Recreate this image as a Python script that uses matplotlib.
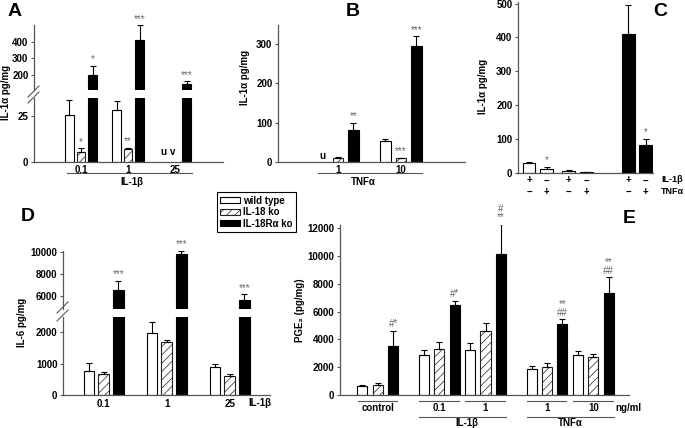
import numpy as np
import matplotlib.pyplot as plt
from matplotlib.patches import Patch
from matplotlib.lines import Line2D
from matplotlib.transforms import Affine2D, blended_transform_factory

plt.rcParams['font.family'] = ['Liberation Sans', 'DejaVu Sans']
plt.rcParams['font.weight'] = 'bold'
plt.rcParams['font.size'] = 7
plt.rcParams['hatch.linewidth'] = 0.5

# ---- data ----
# A: IL-1a, IL-1b stimulation (None = undetectable)
a_doses = ["0.1", "1", "25"]
a_wt = [25.5, 28.5, None]
a_wt_err = [8, 4.5, 0]
a_ko18 = [5.7, 7.0, None]
a_ko18_err = [1.9, 0.9, 0]
a_ko18r = [200, 408, 144]
a_ko18r_err = [55, 92, 20]
a_marks = {"ko18": ["*", "**", ""], "ko18r": ["*", "***", "***"]}
a_undet = ["u", "v"]

# B: IL-1a, TNFa stimulation
b_doses = ["1", "10"]
b_wt = [None, 53]
b_wt_err = [0, 5]
b_ko18 = [11, 9]
b_ko18_err = [3, 2]
b_ko18r = [81, 295]
b_ko18r_err = [19, 25]
b_marks = {"ko18": ["", "***"], "ko18r": ["**", "***"]}

# C: IL-1a, IL-1b vs TNFa
c_il1b = ["+", "\u2212", "+", "\u2212", "+", "\u2212"]
c_tnfa = ["\u2212", "+", "\u2212", "+", "\u2212", "+"]
c_vals = [28, 11, 6, 1.5, 409, 81]
c_err = [4, 6, 2, 0.5, 87, 19]
c_fill = ["white", "white", "white", "white", "black", "black"]
c_marks = ["", "*", "", "", "", "*"]

# D: IL-6
d_doses = ["0.1", "1", "25"]
d_wt = [774, 1965, 901]
d_wt_err = [236, 350, 76]
d_ko18 = [659, 1678, 605]
d_ko18_err = [64, 64, 54]
d_ko18r = [6525, 9843, 5604]
d_ko18r_err = [830, 277, 553]
d_marks = ["***", "***", "***"]

# E: PGE2
e_groups = ["control", "0.1", "1", "1", "10"]
e_wt = [650, 2905, 3241, 1873, 2905]
e_wt_err = [50, 336, 480, 192, 264]
e_ko18 = [720, 3289, 4586, 1993, 2761]
e_ko18_err = [120, 528, 624, 288, 192]
e_ko18r = [3529, 6483, 10156, 5090, 7323]
e_ko18r_err = [1105, 312, 2161, 384, 1152]
e_marks = ["#*", "#*", "#\n**", "**\n##", "**\n##"]

AXC = "#555555"
STAR = "#666666"

W, H = 685, 428
fig = plt.figure(figsize=(W / 100, H / 100), dpi=100)
px = Affine2D().scale(1 / W, -1 / H).translate(0, 1) + fig.transFigure


def add_ax(x0, y0, x1, y1):
    return fig.add_axes([x0 / W, 1 - y1 / H, (x1 - x0) / W, (y1 - y0) / H])


def style(ax):
    for s in ["top", "right"]:
        ax.spines[s].set_visible(False)
    for s in ["left", "bottom"]:
        ax.spines[s].set_color(AXC)
        ax.spines[s].set_linewidth(0.9)
    ax.tick_params(axis="y", length=2.5, width=0.8, color=AXC, pad=1.5, labelsize=7)
    ax.tick_params(axis="x", length=0, labelsize=7)
    ax.patch.set_visible(False)


def bars(ax, x, vals, errs, kind, width):
    xs = [xi for xi, v in zip(x, vals) if v is not None]
    vs = [v for v in vals if v is not None]
    es = [e for e, v in zip(errs, vals) if v is not None]
    if kind == "ko18":
        ax.bar(xs, vs, width, facecolor="white", edgecolor="#222222", hatch="////", linewidth=0.8)
    else:
        ax.bar(xs, vs, width, facecolor="white" if kind == "wt" else "black",
               edgecolor="black", linewidth=0.8)
    ax.errorbar(xs, vs, yerr=[np.zeros(len(vs)), es], fmt="none", ecolor="black",
                elinewidth=0.8, capsize=2, capthick=0.8)


def mark(axes, x, top, s):
    if not s:
        return
    ax = [a for a in axes if a.get_ylim()[0] <= top][-1]
    ax.annotate(s, (x, top), xytext=(0, 1), textcoords="offset points", ha="center",
                va="bottom", fontsize=7, color=STAR, fontweight="normal",
                linespacing=0.85, annotation_clip=False)


def brk(x0, y0, x1, y1):
    fig.add_artist(Line2D([x0, x1], [y0, y1], transform=px, color=AXC, lw=0.8))


def group_line(ax, x0, x1, y):
    tr = blended_transform_factory(ax.transData, px)
    fig.add_artist(Line2D([x0, x1], [y, y], transform=tr, color=AXC, lw=0.8))


def group_text(ax, x, y, s, **kw):
    tr = blended_transform_factory(ax.transData, px)
    fig.text(x, y, s, transform=tr, ha="center", va="center", **kw)


# ---------------- A ----------------
axA_lo = add_ax(34, 97.5, 223, 162.3)
axA_hi = add_ax(34, 25, 223, 90)
xa = np.arange(len(a_doses))
off, wa = 0.245, 0.19
for ax in (axA_lo, axA_hi):
    style(ax)
    bars(ax, xa - off, a_wt, a_wt_err, "wt", wa)
    bars(ax, xa, a_ko18, a_ko18_err, "ko18", wa)
    bars(ax, xa + off, a_ko18r, a_ko18r_err, "ko18r", wa)
    ax.set_xlim(-1.0, 3.02)
axA_lo.set_ylim(0, 35)
axA_hi.set_ylim(110, 500)
axA_lo.set_yticks([0, 25])
axA_hi.set_yticks([200, 300, 400])
axA_hi.spines["bottom"].set_visible(False)
axA_hi.set_xticks([])
axA_lo.set_xticks(xa, a_doses)
axA_lo.tick_params(axis="x", pad=2)
for i in range(len(a_doses)):
    if a_ko18[i] is not None:
        mark([axA_lo, axA_hi], xa[i], a_ko18[i] + a_ko18_err[i], a_marks["ko18"][i])
    mark([axA_lo, axA_hi], xa[i] + off, a_ko18r[i] + a_ko18r_err[i], a_marks["ko18r"][i])
for j, s in enumerate(a_undet):
    axA_lo.text(xa[2] - off + j * off * 0.8, 3, s, ha="center", va="bottom", fontsize=7)
brk(28, 97, 39, 86)
brk(28, 103, 39, 92)
group_line(axA_lo, -0.3, 2.36, 173)
group_text(axA_lo, 1.08, 182, "IL-1\u03b2")
fig.text(6, 92, "IL-1\u03b1 pg/mg", transform=px, rotation=90, ha="center", va="center")
fig.text(15, 11, "A", transform=px, fontsize=14, ha="center", va="center")

# ---------------- B ----------------
axB = add_ax(278, 25, 465, 162)
style(axB)
xb = np.arange(len(b_doses))
offb, wb = 0.246, 0.167
bars(axB, xb - offb, b_wt, b_wt_err, "wt", wb)
bars(axB, xb, b_ko18, b_ko18_err, "ko18", wb)
bars(axB, xb + offb, b_ko18r, b_ko18r_err, "ko18r", wb)
axB.set_xlim(-0.952, 2.016)
axB.set_ylim(0, 349)
axB.set_yticks([0, 100, 200, 300])
axB.set_xticks(xb, b_doses)
axB.tick_params(axis="x", pad=2)
for i in range(len(b_doses)):
    mark([axB], xb[i], b_ko18[i] + b_ko18_err[i], b_marks["ko18"][i])
    mark([axB], xb[i] + offb, b_ko18r[i] + b_ko18r_err[i], b_marks["ko18r"][i])
axB.text(xb[0] - offb, 3, "u", ha="center", va="bottom", fontsize=7)
group_line(axB, -0.32, 1.33, 173.5)
group_text(axB, 0.4, 182, "TNF\u03b1")
fig.text(245, 77, "IL-1\u03b1 pg/mg", transform=px, rotation=90, ha="center", va="center")
fig.text(353, 11, "B", transform=px, fontsize=14, ha="center", va="center")

# ---------------- C ----------------
axC = add_ax(518, 2, 653, 172.7)
style(axC)
xc = np.array([0, 1, 2.27, 3.27, 5.67, 6.67])
axC.bar(xc, c_vals, 0.74, color=c_fill, edgecolor="black", linewidth=0.8)
axC.errorbar(xc, c_vals, yerr=[np.zeros(len(c_vals)), c_err], fmt="none", ecolor="black",
             elinewidth=0.8, capsize=2, capthick=0.8)
axC.set_xlim(-0.63, 7.09)
axC.set_ylim(0, 505)
axC.set_yticks(np.arange(0, 501, 100))
axC.set_xticks(xc, [f"{a}\n{b}" for a, b in zip(c_il1b, c_tnfa)])
axC.tick_params(axis="x", pad=2)
for label in axC.get_xticklabels():
    label.set_linespacing(1.15)
for i, s in enumerate(c_marks):
    mark([axC], xc[i], c_vals[i] + c_err[i], s)
fig.text(661, 180, "IL-1\u03b2", transform=px, ha="left", va="center", fontsize=6.5)
fig.text(661, 191.5, "TNF\u03b1", transform=px, ha="left", va="center", fontsize=6.5)
fig.text(483, 86, "IL-1\u03b1 pg/mg", transform=px, rotation=90, ha="center", va="center")
fig.text(660, 11, "C", transform=px, fontsize=14, ha="center", va="center")

# ---------------- D ----------------
axD_lo = add_ax(63, 316.6, 270, 395)
axD_hi = add_ax(63, 251, 270, 309)
xd = np.arange(len(d_doses))
offd, wd = 0.233, 0.167
for ax in (axD_lo, axD_hi):
    style(ax)
    bars(ax, xd - offd, d_wt, d_wt_err, "wt", wd)
    bars(ax, xd, d_ko18, d_ko18_err, "ko18", wd)
    bars(ax, xd + offd, d_ko18r, d_ko18r_err, "ko18r", wd)
    ax.set_xlim(-0.646, 2.64)
axD_lo.set_ylim(0, 2500)
axD_hi.set_ylim(4780, 10100)
axD_lo.set_yticks([0, 1000, 2000])
axD_hi.set_yticks([6000, 8000, 10000])
axD_hi.spines["bottom"].set_visible(False)
axD_hi.set_xticks([])
axD_lo.set_xticks(xd, d_doses)
axD_lo.tick_params(axis="x", pad=3)
for i in range(len(d_doses)):
    mark([axD_lo, axD_hi], xd[i] + offd, d_ko18r[i] + d_ko18r_err[i], d_marks[i])
brk(57, 313, 68, 302)
brk(57, 321, 68, 310)
group_text(axD_lo, 2.48, 403, "IL-1\u03b2")
fig.text(22, 322, "IL-6 pg/mg", transform=px, rotation=90, ha="center", va="center")
fig.text(28, 217, "D", transform=px, fontsize=14, ha="center", va="center")

# ---------------- E ----------------
axE = add_ax(340, 225, 629, 395)
style(axE)
xe = np.array([0, 4, 7, 11, 14])
we = 0.65
bars(axE, xe - 1, e_wt, e_wt_err, "wt", we)
bars(axE, xe, e_ko18, e_ko18_err, "ko18", we)
bars(axE, xe + 1, e_ko18r, e_ko18r_err, "ko18r", we)
axE.set_xlim(-2.45, 16.32)
axE.set_ylim(0, 12240)
axE.set_yticks(np.arange(0, 12001, 2000))
axE.set_xticks(xe, e_groups)
axE.tick_params(axis="x", pad=6)
for i in range(len(e_groups)):
    mark([axE], xe[i] + 1, e_ko18r[i] + e_ko18r_err[i], e_marks[i])
    group_line(axE, xe[i] - 1.3, xe[i] + 1.25, 400.7)
group_line(axE, xe[1] - 1.33, xe[2] + 1.33, 416.7)
group_line(axE, xe[3] - 1.33, xe[4] + 1.33, 416.7)
group_text(axE, 5.8, 423.5, "IL-1\u03b2")
group_text(axE, 12.5, 423.5, "TNF\u03b1")
fig.text(615, 408, "ng/ml", transform=px, ha="left", va="center")
fig.text(300, 310, "PGE\u2082 (pg/mg)", transform=px, rotation=90, ha="center", va="center")
fig.text(629, 219, "E", transform=px, fontsize=14, ha="center", va="center")

# ---------------- legend ----------------
handles = [
    Patch(facecolor="white", edgecolor="black", linewidth=0.8, label="wild type"),
    Patch(facecolor="white", edgecolor="#222222", hatch="////", linewidth=0.8, label="IL-18 ko"),
    Patch(facecolor="black", edgecolor="black", linewidth=0.8, label="IL-18R\u03b1 ko"),
]
leg = fig.legend(handles=handles, loc="upper left", bbox_to_anchor=(216.7, 192.3),
                 bbox_transform=px, fancybox=False, edgecolor="black", fontsize=7,
                 handlelength=2.0, handleheight=0.55, handletextpad=0.4,
                 labelspacing=0.15, borderpad=0.35, borderaxespad=0, framealpha=1)
leg.get_frame().set_linewidth(0.8)

fig.savefig("out.png", dpi=100)
